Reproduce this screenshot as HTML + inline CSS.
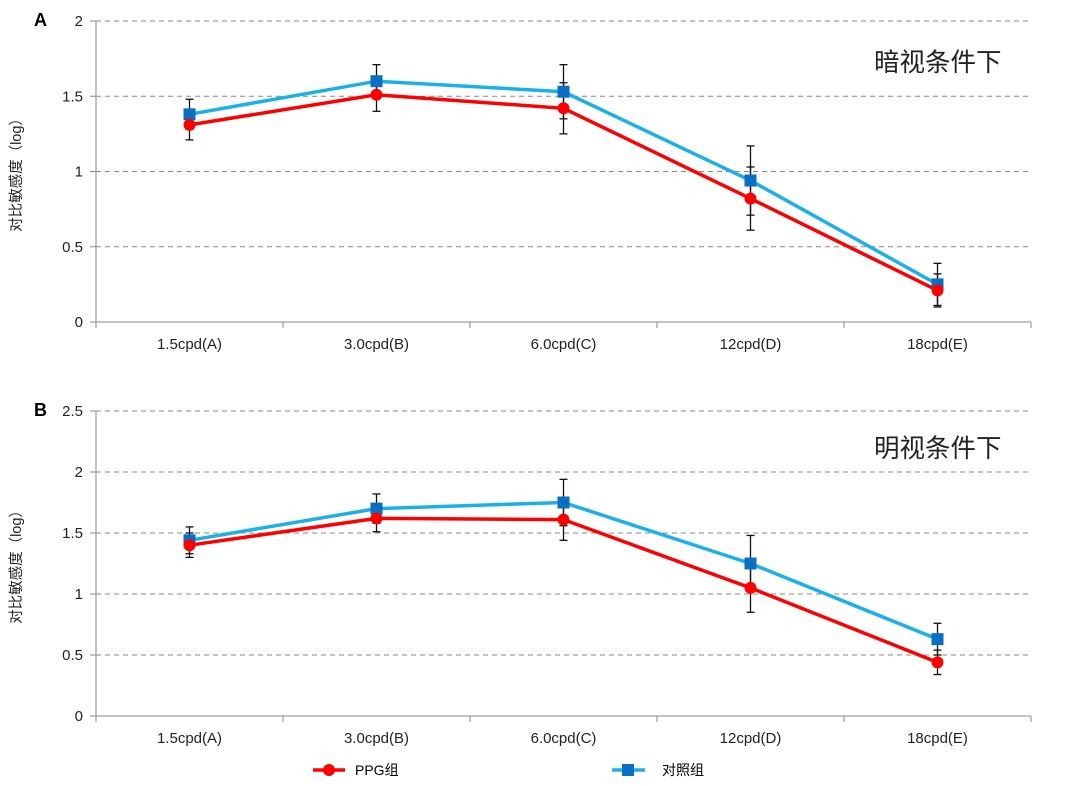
<!DOCTYPE html>
<html><head><meta charset="utf-8"><style>
body{margin:0;background:#fff}
svg text{font-family:"Liberation Sans","Noto Sans CJK SC",sans-serif}
</style></head><body>
<svg id="s" width="1077" height="781" xmlns="http://www.w3.org/2000/svg"></svg>
<script>
const s=document.getElementById('s');let h='';
const X0=96,X1=1031,cw=(X1-X0)/5;const cx=i=>X0+cw*(i+0.5);
const cats=['1.5cpd(A)','3.0cpd(B)','6.0cpd(C)','12cpd(D)','18cpd(E)'];
function panel(y0,ytop,max,step,lab,title,ppg,ctl,pe,ce,titleY){
 const Y=v=>y0-(y0-ytop)*v/max;
 for(let v=0;v<=max+1e-9;v+=step){const y=Y(v);
  if(v>0)h+=`<line x1="${X0}" y1="${y}" x2="${X1}" y2="${y}" stroke="#888" stroke-dasharray="5,4" stroke-width="1"/>`;
  h+=`<line x1="${X0-6}" y1="${y}" x2="${X0}" y2="${y}" stroke="#888"/>`;
  h+=`<text x="${X0-13}" y="${y+5}" font-size="15" text-anchor="end" fill="#222">${+v.toFixed(1)}</text>`;}
 h+=`<line x1="${X0}" y1="${ytop}" x2="${X0}" y2="${y0}" stroke="#888"/>`;
 h+=`<line x1="${X0}" y1="${y0}" x2="${X1}" y2="${y0}" stroke="#888"/>`;
 for(let i=0;i<=5;i++){const x=X0+cw*i;h+=`<line x1="${x}" y1="${y0}" x2="${x}" y2="${y0+6}" stroke="#888"/>`;}
 cats.forEach((c,i)=>h+=`<text x="${cx(i)}" y="${y0+27}" font-size="15" text-anchor="middle" fill="#222">${c}</text>`);
 h+=`<text transform="translate(21,${(y0+ytop)/2}) rotate(-90)" font-size="14.5" text-anchor="middle" fill="#222">对比敏感度（log）</text>`;
 h+=`<text x="34" y="${ytop+5}" font-size="18" font-weight="bold">${lab}</text>`;
 h+=`<text x="874" y="${titleY}" font-size="25.5" fill="#222">${title}</text>`;
 const eb=(d,e)=>d.forEach((v,i)=>{const x=cx(i),a=Y(v+e[i]),b=Y(v-e[i]);h+=`<line x1="${x}" y1="${a}" x2="${x}" y2="${b}" stroke="#111" stroke-width="1.3"/><line x1="${x-4}" y1="${a}" x2="${x+4}" y2="${a}" stroke="#111" stroke-width="1.3"/><line x1="${x-4}" y1="${b}" x2="${x+4}" y2="${b}" stroke="#111" stroke-width="1.3"/>`;});
 eb(ctl,ce);eb(ppg,pe);
 h+=`<polyline fill="none" stroke="#1ab0ea" stroke-width="3.5" points="${ctl.map((v,i)=>cx(i)+','+Y(v)).join(' ')}"/>`;
 h+=`<polyline fill="none" stroke="#f00" stroke-width="3.5" points="${ppg.map((v,i)=>cx(i)+','+Y(v)).join(' ')}"/>`;
 ctl.forEach((v,i)=>h+=`<rect x="${cx(i)-6}" y="${Y(v)-6}" width="12" height="12" fill="#0a6fc2"/>`);
 ppg.forEach((v,i)=>h+=`<circle cx="${cx(i)}" cy="${Y(v)}" r="6" fill="#f00"/>`);
}
panel(322,21,2,0.5,'A','暗视条件下',[1.31,1.51,1.42,0.82,0.21],[1.38,1.60,1.53,0.94,0.25],[0.1,0.11,0.17,0.21,0.11],[0.1,0.11,0.18,0.23,0.14],71);
panel(716,411,2.5,0.5,'B','明视条件下',[1.40,1.62,1.61,1.05,0.44],[1.44,1.70,1.75,1.25,0.63],[0.1,0.11,0.17,0.2,0.1],[0.11,0.12,0.19,0.23,0.13],457);
h+=`<line x1="313" y1="770" x2="345" y2="770" stroke="#f00" stroke-width="3.5"/><circle cx="329" cy="770" r="6" fill="#f00"/><text x="355" y="775" font-size="14">PPG组</text>`;
h+=`<line x1="612" y1="770" x2="645" y2="770" stroke="#1ab0ea" stroke-width="3.5"/><rect x="622" y="764" width="12" height="12" fill="#0a6fc2"/><text x="662" y="775" font-size="14">对照组</text>`;
s.innerHTML=h;
</script>
</body></html>
